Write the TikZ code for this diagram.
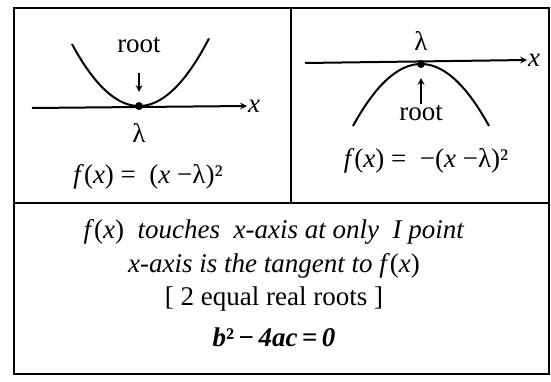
\documentclass[tikz,border=0pt]{standalone}
\usepackage{fontspec}
\setmainfont{Liberation Serif}

\begin{document}
\begin{tikzpicture}[>=stealth, x=1pt, y=-1pt, line width=2pt,
  txt/.style={font=\fontsize{27}{32}\selectfont, inner sep=0pt},
  pt/.style={circle,fill=black,inner sep=0pt,minimum size=8pt}]
  \useasboundingbox (0,0) rectangle (551,382);
  % frame
  \draw (14,8) rectangle (549,374);
  \draw (14,203) -- (549,203);
  \draw (291,8) -- (291,203);
  % left panel: touches from above
  \node[pt] (PA) at (139,106) {};
  \coordinate (axA) at (32,108);
  \node[txt] (xA) at (254,106) {\textit{x}};
  \draw[->] (axA) -- (xA.west);
  \draw[domain=-67:70,samples=60,smooth] plot ({139+\x},{106-0.0138*\x*\x});
  \node[txt] (rootA) at (139,45) {root};
  \draw[->] (139,73) -- (PA.north) [shorten >=9pt];
  \node[txt] (lamA) at (139,133) {λ};
  \node[txt] (fA) at (148,177) {\textit{f}(\textit{x}) =\ \ (\textit{x} −λ)²};
  % right panel: touches from below
  \node[pt] (PB) at (421,64) {};
  \coordinate (axB) at (305,63);
  \node[txt] (xB) at (534,60) {\textit{x}};
  \draw[->] (axB) -- (xB.west);
  \draw[domain=-68:68,samples=60,smooth] plot ({421+\x},{64+0.0134*\x*\x});
  \node[txt] (lamB) at (421,41) {λ};
  \node[txt] (rootB) at (421,113) {root};
  \draw[->] (rootB.north) -- (PB.south) [shorten >=9pt];
  \node[txt] (fB) at (426,161) {\textit{f}(\textit{x}) =\ \ −(\textit{x} −λ)²};
  % summary
  \node[txt,anchor=base] (s1) at (274,238) {\textit{f}(\textit{x})\ \ \textit{touches\ \ x-axis at only\ \ I point}};
  \node[txt,anchor=base] (s2) at (274,272) {\textit{x-axis is the tangent to f}(\textit{x})};
  \node[txt,anchor=base] (s3) at (274,305) {[ 2 equal real roots ]};
  \node[txt,anchor=base] (s4) at (274,346) {\textbf{\textit{b}²\,−\,\textit{4ac}\,=\,\textit{0}}};
\end{tikzpicture}
\end{document}
